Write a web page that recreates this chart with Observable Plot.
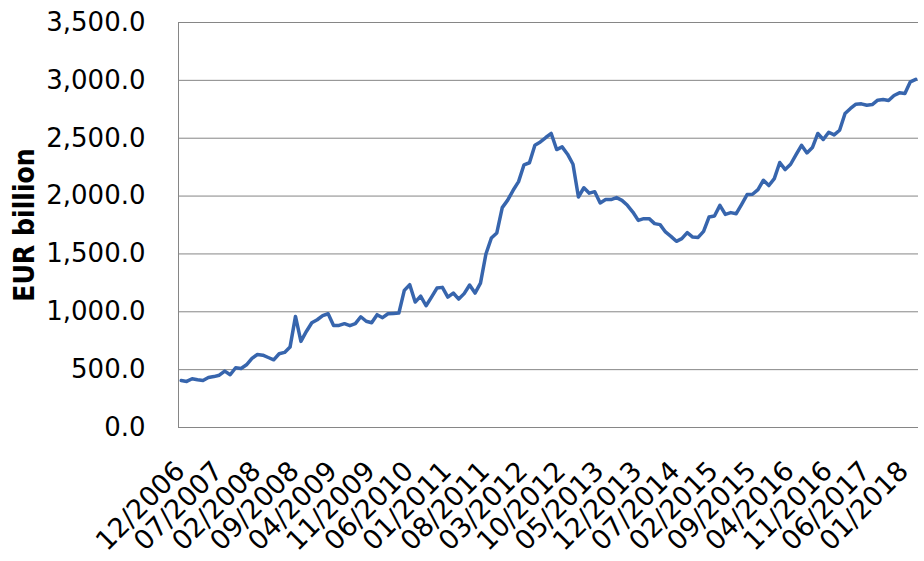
<!DOCTYPE html>
<html>
<head>
<meta charset="utf-8">
<script src="https://cdn.jsdelivr.net/npm/d3@7"></script>
<script src="https://cdn.jsdelivr.net/npm/@observablehq/plot@0.6"></script>
<style>
  html, body { margin: 0; padding: 0; background: #fff; }
</style>
</head>
<body>
<div id="chart"></div>
<script>
// Monthly values, 12/2006 .. 03/2018 (EUR billion)
const values = [
  406, 398, 421, 412, 406, 432, 440, 452, 487, 456,
  516, 510, 542, 597, 631, 625, 605, 585, 637, 649,
  695, 960, 744, 830, 905, 931, 966, 983, 882, 882,
  897, 880, 897, 957, 918, 905, 975, 949, 983, 986,
  989, 1185, 1234, 1084, 1136, 1052, 1127, 1205, 1211, 1127,
  1162, 1110, 1157, 1231, 1162, 1248, 1499, 1638, 1681, 1900,
  1965, 2050, 2125, 2270, 2288, 2440, 2468, 2506, 2541, 2402,
  2425, 2362, 2275, 1992, 2072, 2025, 2038, 1940, 1970, 1970,
  1987, 1963, 1920, 1862, 1790, 1805, 1805, 1762, 1753, 1690,
  1652, 1609, 1632, 1684, 1646, 1643, 1695, 1819, 1828, 1920,
  1842, 1857, 1848, 1929, 2013, 2016, 2056, 2137, 2091, 2151,
  2290, 2229, 2275, 2359, 2439, 2373, 2419, 2541, 2489, 2552,
  2529, 2569, 2714, 2757, 2794, 2797, 2785, 2791, 2829, 2834,
  2826, 2869, 2892, 2886, 2987, 3008
];
const firstMonth = [2006, 11]; // December 2006 (0-based month)
const tickLabels = [
  "12/2006", "07/2007", "02/2008", "09/2008", "04/2009", "11/2009", "06/2010",
  "01/2011", "08/2011", "03/2012", "10/2012", "05/2013", "12/2013", "07/2014",
  "02/2015", "09/2015", "04/2016", "11/2016", "06/2017", "01/2018"
];
const yTicks = [0, 500, 1000, 1500, 2000, 2500, 3000, 3500];
const yLabel = "EUR billion";

const fmtMonth = d3.utcFormat("%m/%Y");
const months = values.map((_, i) => fmtMonth(new Date(Date.UTC(firstMonth[0], firstMonth[1] + i, 1))));
const data = values.map((v, i) => ({month: months[i], value: v}));

const chart = Plot.plot({
  width: 924,
  height: 561,
  marginLeft: 178,
  marginRight: 6,
  marginTop: 22,
  marginBottom: 134,
  style: {fontFamily: "DejaVu Sans", fontSize: "26px", background: "#fff", color: "#000", overflow: "visible"},
  x: {type: "point", domain: months, padding: 0.5},
  y: {domain: [0, 3500]},
  marks: [
    Plot.gridY(yTicks, {stroke: "#868686", strokeOpacity: 1, strokeWidth: 1}),
    Plot.frame({anchor: "left", stroke: "#868686", strokeWidth: 1}),
    Plot.ruleY([0], {stroke: "#868686", strokeWidth: 1}),
    Plot.axisY(yTicks, {tickSize: 0, tickPadding: 33, tickFormat: d3.format(",.1f"), label: null, fontSize: 26}),
    Plot.axisX(tickLabels, {tickSize: 0, tickPadding: 39, tickRotate: -45, textAnchor: "end", lineAnchor: "middle", dx: -1, label: null, fontSize: 27}),
    Plot.lineY(data, {x: "month", y: "value", stroke: "#3765ad", strokeWidth: 3.5, strokeLinejoin: "round"}),
    Plot.text([yLabel], {frameAnchor: "left", textAnchor: "middle", dx: -153, rotate: -90, fontWeight: "bold", fontSize: 28, fontFamily: "DejaVu Sans Condensed, DejaVu Sans"})
  ]
});
document.getElementById("chart").appendChild(chart);
</script>
</body>
</html>
